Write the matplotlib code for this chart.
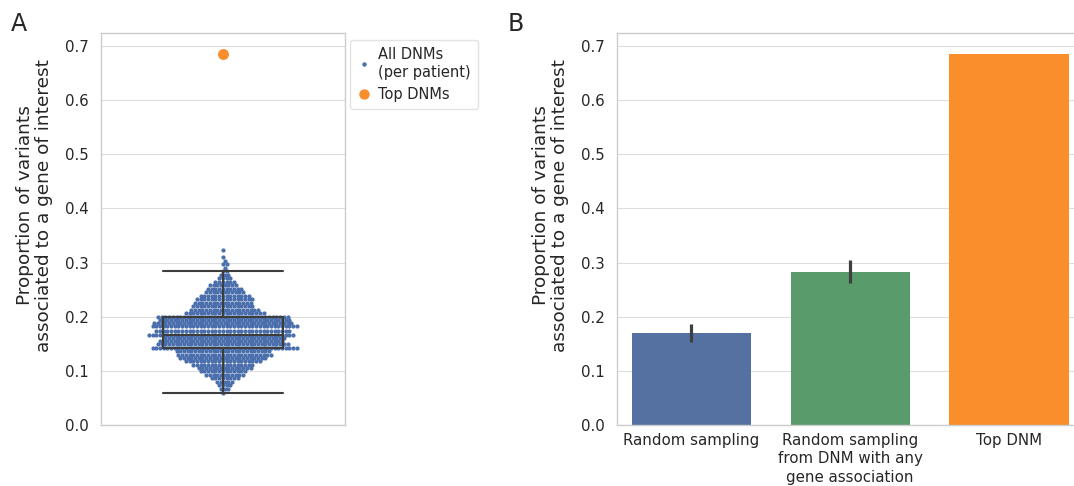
import numpy as np
import matplotlib
matplotlib.use("Agg")
import matplotlib.pyplot as plt
import seaborn as sns
from matplotlib.lines import Line2D

sns.set_style("whitegrid")
plt.rcParams["font.family"] = ["DejaVu Sans"]
plt.rcParams["axes.edgecolor"] = "#cccccc"
plt.rcParams["grid.color"] = "#dddddd"
plt.rcParams["text.color"] = "#262626"
plt.rcParams["xtick.color"] = "#262626"
plt.rcParams["ytick.color"] = "#262626"

# Per-patient proportion of DNMs hitting a gene of interest (value -> number of patients)
patient_levels = [0.060, 0.066, 0.073, 0.079, 0.086, 0.092, 0.099, 0.105, 0.111, 0.118,
                  0.124, 0.130, 0.136, 0.143, 0.149, 0.155, 0.161, 0.167, 0.174, 0.182,
                  0.188, 0.194, 0.200, 0.207, 0.213, 0.220, 0.226, 0.232, 0.239, 0.245,
                  0.252, 0.258, 0.264, 0.271, 0.277, 0.284, 0.290, 0.297, 0.303, 0.310,
                  0.323]
patient_counts = [1, 3, 4, 5, 8, 11, 13, 15, 17, 21,
                  24, 26, 26, 40, 36, 34, 33, 40, 37, 40,
                  38, 36, 36, 22, 19, 17, 16, 16, 14, 11,
                  10, 8, 6, 4, 3, 2, 1, 2, 1, 1,
                  1]
top_dnm = 0.685

# Panel B: mean proportion and confidence interval per strategy
strategies = ["Random sampling", "Random sampling\nfrom DNM with any\ngene association", "Top DNM"]
strategy_means = [0.169, 0.282, 0.685]
strategy_ci_low = [0.153, 0.262, np.nan]
strategy_ci_high = [0.187, 0.304, np.nan]
bar_colors = ["#5471a2", "#5a9b6b", "#f98e2a"]

per_patient = np.repeat(patient_levels, patient_counts)


def swarm_x(values, diam, sx, sy):
    """Beeswarm offsets: each point goes as close to the centre as it can
    without touching a point already placed (all sizes in pixels)."""
    ys = np.sort(values) * sy
    placed_x, placed_y = [], []
    out = []
    for y in ys:
        px = np.array(placed_x)
        py = np.array(placed_y)
        near = np.abs(py - y) < diam if len(py) else np.zeros(0, bool)
        nx, ny = px[near], py[near]
        dx = np.sqrt(np.maximum(diam ** 2 - (ny - y) ** 2, 0))
        cands = np.concatenate([[0.0], nx + dx, nx - dx])
        cands = cands[np.argsort(np.abs(cands), kind="stable")]
        for c in cands:
            if np.all((nx - c) ** 2 + (ny - y) ** 2 >= diam ** 2 - 1e-6):
                break
        placed_x.append(c)
        placed_y.append(y)
        out.append(c)
    return np.array(out) / sx, ys / sy


W, H = 1074, 486
fig = plt.figure(figsize=(W / 100, H / 100), dpi=100)
axA = fig.add_axes([100.7 / W, 61 / H, 244.3 / W, 392 / H])
axB = fig.add_axes([616.7 / W, 61 / H, 467 / W, 392 / H])

ylabel = "Proportion of variants\nassociated to a gene of interest"
ymax = 0.724

# ---- A: swarm of patients with box summary ----
sx, ys = swarm_x(per_patient, 3.7, 244.3, 392 / ymax)
axA.scatter(sx, ys, s=(4.2 * 0.72) ** 2, color="#4a6fac", linewidths=0, zorder=2)
axA.boxplot(per_patient, positions=[0], widths=0.49, showfliers=False,
            capwidths=0.49, patch_artist=False, zorder=3,
            boxprops=dict(color="#3d3d3d", linewidth=1.5),
            whiskerprops=dict(color="#3d3d3d", linewidth=1.5),
            capprops=dict(color="#3d3d3d", linewidth=1.5),
            medianprops=dict(color="#3d3d3d", linewidth=1.5))
axA.scatter([0], [top_dnm], s=62, color="#f98e2a", zorder=4, linewidths=0)
axA.set_xlim(-0.5, 0.5)
axA.set_xticks([])

leg_handles = [
    Line2D([], [], ls="none", marker="o", ms=3.2, color="#4a6fac", mew=0),
    Line2D([], [], ls="none", marker="o", ms=7.5, color="#f98e2a", mew=0),
]
fig.legend(leg_handles, ["All DNMs\n(per patient)", "Top DNMs"],
           loc="upper left", bbox_to_anchor=(350 / W, 1 - 40 / H), borderaxespad=0,
           fontsize=10.5, frameon=True, edgecolor="#dddddd", fancybox=True,
           handletextpad=0.5, borderpad=0.5, labelspacing=0.5, handlelength=0.9)

# ---- B: bars with confidence intervals ----
pos = np.arange(len(strategies))
axB.bar(pos, strategy_means, width=0.75, color=bar_colors, linewidth=0, zorder=2)
axB.vlines(pos, strategy_ci_low, strategy_ci_high, color="#3f3f3f", linewidth=2.3, zorder=3)
axB.set_xlim(-0.47, 2.47)
axB.set_xticks(pos)
axB.set_xticklabels(strategies, fontsize=10.8, linespacing=1.3)
axB.grid(axis="x", visible=False)

for ax in (axA, axB):
    ax.set_ylim(0, ymax)
    ax.set_yticks(np.arange(0, 0.71, 0.1))
    ax.set_yticklabels([f"{v:.1f}" for v in np.arange(0, 0.71, 0.1)], fontsize=10.8)
    ax.tick_params(axis="y", length=0, pad=8.5)
    ax.tick_params(axis="x", length=0, pad=5.5)
    ax.set_axisbelow(True)
    ax.set_ylabel(ylabel, fontsize=13.3, labelpad=9, linespacing=1.05)
    ax.yaxis.label.set_y(0.56)
    for s in ax.spines.values():
        s.set_color("#cccccc")
        s.set_linewidth(1)

fig.text(11 / W, 1 - 31 / H, "A", fontsize=17)
fig.text(508 / W, 1 - 31 / H, "B", fontsize=17)

fig.savefig("out.png", dpi=100)
